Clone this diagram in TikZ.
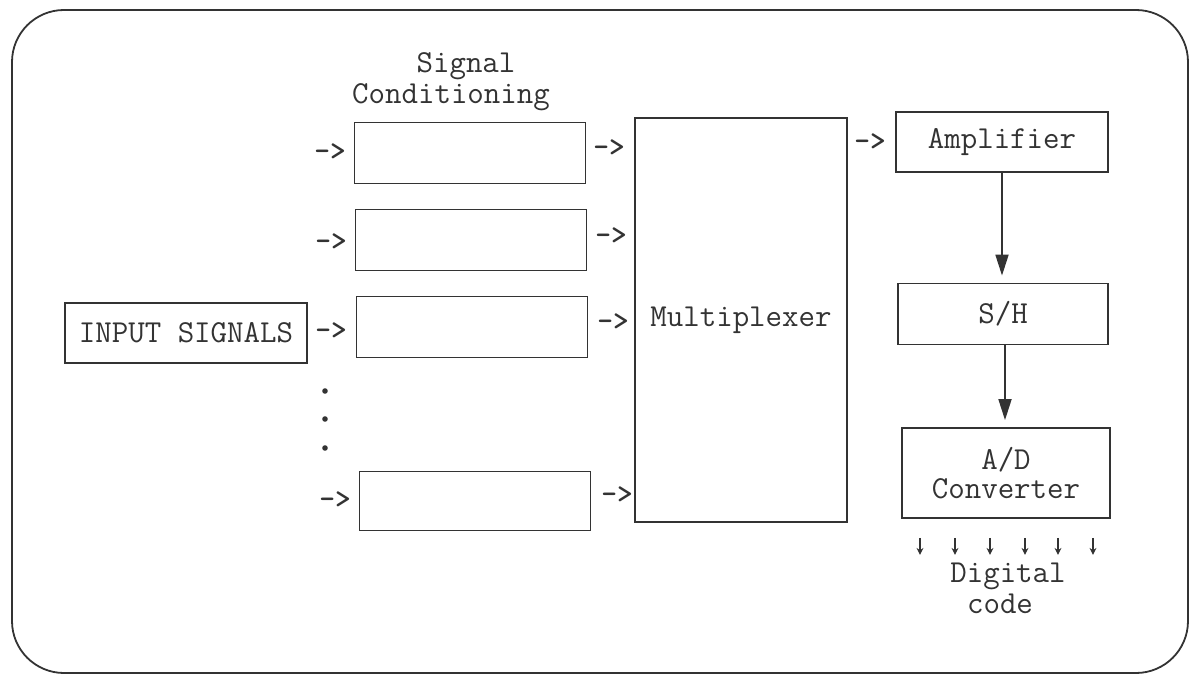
\documentclass[tikz,border=0pt]{standalone}
\usepackage{fontspec}
\usetikzlibrary{arrows.meta,calc}
\definecolor{ink}{HTML}{333333}
\newcommand{\dfont}{\fontsize{32}{29}\ttfamily\selectfont}
\tikzset{
  box/.style={draw=ink, line width=1.8pt, rectangle, inner sep=0pt, text=ink, font=\dfont},
  txt/.style={text=ink, inner sep=0pt, font=\dfont},
  arrtxt/.style={text=ink, inner sep=0pt, font=\fontsize{30}{28}\ttfamily\bfseries\selectfont},
  bigarr/.style={draw=ink, line width=1.8pt, -{Triangle[width=13pt,length=21pt]}},
  smallarr/.style={draw=ink, line width=1.3pt, -{Stealth[width=7pt,length=7pt]}},
}
\begin{document}
\begin{tikzpicture}[x=1pt,y=-1pt]
\useasboundingbox (0,0) rectangle (1192,677);
% frame
\draw[ink, line width=1.8pt, rounded corners=52pt] (12,10) rectangle (1188,673);

% header
\node[txt, align=center, font=\fontsize{32}{31}\ttfamily\selectfont] (sclab) at (451,82) {\hspace*{30pt}Signal\\Conditioning};

% input
\node[box, minimum width=242pt, minimum height=60pt] (in) at (186,333) {INPUT SIGNALS};
\node[arrtxt] (ai) at (331,331) {->};

% signal conditioning boxes
\node[box, minimum width=231pt, minimum height=61pt] (sc1) at (470,153) {};
\node[box, minimum width=231pt, minimum height=61pt] (sc2) at (471,240) {};
\node[box, minimum width=231pt, minimum height=61pt] (sc3) at (472,327) {};
\node[box, minimum width=231pt, minimum height=59pt] (sc4) at (475,501) {};

\node[arrtxt] (l1) at (330,152) {->};
\node[arrtxt] (l2) at (331,242) {->};
\node[arrtxt] (l4) at (335,500) {->};

\node[arrtxt] (r1) at (609,148) {->};
\node[arrtxt] (r2) at (611,236) {->};
\node[arrtxt] (r3) at (613,322) {->};
\node[arrtxt] (r4) at (617,495) {->};

% dots
\fill[ink] (325,391) circle (2.8pt);
\fill[ink] (325,419) circle (2.8pt);
\fill[ink] (325,448) circle (2.8pt);

% multiplexer
\node[box, minimum width=212pt, minimum height=404pt] (mux) at (741,320) {Multiplexer};
\node[arrtxt] (rm) at (870,142) {->};

% right chain
\node[box, minimum width=212pt, minimum height=60pt] (amp) at (1002,142) {Amplifier};
\node[box, minimum width=210pt, minimum height=61pt] (sh) at (1003,314) {S/H};
\node[box, minimum width=208pt, minimum height=90pt, align=center] (ad) at (1006,473) {A/D\\Converter};

\draw[bigarr] (amp.south) -- ([yshift=7pt]amp.south |- sh.north);
\draw[bigarr] ([xshift=2pt]sh.south) -- ([xshift=2pt,yshift=7pt]sh.south |- ad.north);

\foreach \dx in {-86,-51,-16,19,52,87}{
  \draw[smallarr] ([xshift=\dx pt, yshift=-19pt]ad.south) -- ([xshift=\dx pt, yshift=-36pt]ad.south);
}

\node[txt, align=center, font=\fontsize{32}{31}\ttfamily\selectfont] (dig) at (1008,588) {Digital\\code\hspace*{16pt}};
\end{tikzpicture}
\end{document}
